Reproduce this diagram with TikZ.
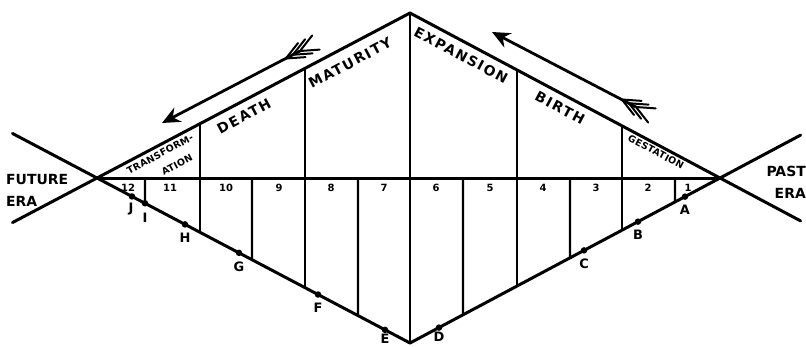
\documentclass[tikz,border=0pt]{standalone}
\usepackage{fontspec}
\newfontfamily\handfont{DejaVu Sans}
\usetikzlibrary{arrows.meta, calc, positioning}

\begin{document}
\begin{tikzpicture}[
    x=1bp, y=-1bp,
    edge/.style={line width=3bp, line cap=round, line join=round},
    rule/.style={line width=2.4bp},
    lbl/.style={font=\handfont\bfseries\fontsize{14}{16}\selectfont\addfontfeatures{LetterSpace=12}, inner sep=0pt},
    small/.style={font=\handfont\bfseries\fontsize{9.5}{11}\selectfont\addfontfeatures{LetterSpace=3}, inner sep=0pt},
    num/.style={font=\handfont\bfseries\fontsize{10}{11}\selectfont, inner sep=0pt},
    era/.style={font=\handfont\bfseries\fontsize{14}{22}\selectfont, inner sep=0pt},
    pt/.style={circle, fill=black, inner sep=0pt, minimum size=6.5bp},
    ptlbl/.style={font=\handfont\bfseries\fontsize{13}{14}\selectfont, inner sep=0pt},
    arrow/.style={line width=2.8bp, -{Stealth[length=18bp, width=16bp]}},
    pics/fletch/.style={code={
        \foreach \s in {0,8,16}
            \draw[line width=2bp, line cap=round] (\s-18,-8) -- (\s,0) -- (\s-18,8);
    }}
]
\useasboundingbox (0,0) rectangle (806,346);

% Corners
\coordinate (L) at (97,178);
\coordinate (R) at (720,178);
\coordinate (T) at (410,13);
\coordinate (B) at (410,343);

% Outline, extended past the side corners
\draw[edge] ($(T)!1.27!(L)$) -- (T) -- ($(T)!1.26!(R)$);
\draw[edge] ($(B)!1.27!(L)$) -- (B) -- ($(B)!1.26!(R)$);
\draw[edge] (L) -- (R);
\draw[rule] (T) -- (B);

% Full height rules
\foreach \x in {200,305}
    \draw[rule] ($(L)!{(\x-97)/313}!(T)$) -- ($(L)!{(\x-97)/313}!(B)$);
\foreach \x in {517,622}
    \draw[rule] ($(R)!{(720-\x)/310}!(T)$) -- ($(R)!{(720-\x)/310}!(B)$);

% Lower rules
\foreach \x in {145,252,358}
    \draw[rule] ($(L)!{(\x-97)/623}!(R)$) -- ($(L)!{(\x-97)/313}!(B)$);
\foreach \x in {463,570,675}
    \draw[rule] ($(R)!{(720-\x)/623}!(L)$) -- ($(R)!{(720-\x)/310}!(B)$);

% Numbers
\foreach \n/\x in {12/128,11/170,10/226,9/279,8/331,7/384,6/436,5/490,4/543,3/596,2/648,1/688}
    \node[num] (n\n) at (\x,188) {\n};

% Points on the lower edges
\foreach \p/\x in {J/132,I/145,H/185,G/239,F/318,E/385}
    \node[pt] (\p) at ($(L)!{(\x-97)/313}!(B)$) {};
\foreach \p/\x in {D/439,C/584,B/638,A/685}
    \node[pt] (p\p) at ($(R)!{(720-\x)/310}!(B)$) {};
\node[ptlbl, below left=4bp and -4bp of J] {J};
\node[ptlbl, below=6bp of I] {I};
\foreach \p in {H,G,F}
    \node[ptlbl, below=5bp of \p] {\p};
\node[ptlbl, below=1bp of E] {E};
\node[ptlbl, below=1bp of pD] {D};
\foreach \p in {C,B,A}
    \node[ptlbl, below=5bp of p\p] {\p};

% Stage names
\node[small, rotate=28] (trans) at (160,154) {TRANSFORM-};
\node[small, rotate=28] (ation) at (177,165) {ATION};
\node[lbl, rotate=28] (death) at (244,116) {DEATH};
\node[lbl, rotate=28] (maturity) at (350,63) {MATURITY};
\node[lbl, rotate=-28] (expansion) at (461,55) {EXPANSION};
\node[lbl, rotate=-28] (birth) at (560,108) {BIRTH};
\node[small, rotate=-28] (gestation) at (656,152) {GESTATION};

% Eras
\node[era, anchor=west, align=left] (future) at (6,190) {FUTURE\\ERA};
\node[era, anchor=east, align=right] (past) at (806,182) {PAST\\ERA};

% Arrows
\coordinate (lt) at (300,51);
\coordinate (lh) at (162,123);
\coordinate (rt) at (636,107);
\coordinate (rh) at (492,32);
\draw[arrow] (lt) -- (lh);
\draw[arrow] (rt) -- (rh);
\pic[rotate=208] at (lt) {fletch};
\pic[rotate=152] at (rt) {fletch};

\end{tikzpicture}
\end{document}
